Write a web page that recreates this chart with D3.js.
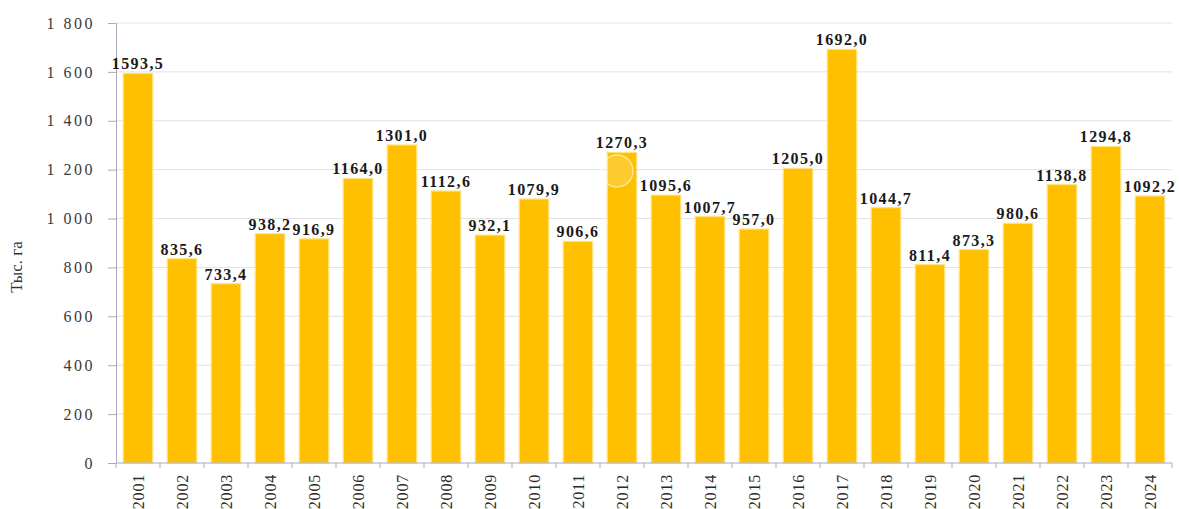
<!DOCTYPE html>
<html>
<head>
<meta charset="utf-8">
<script src="https://cdn.jsdelivr.net/npm/d3@7/dist/d3.min.js"></script>
<style>
  html, body { margin: 0; padding: 0; background: #ffffff; }
  svg { display: block; }
</style>
</head>
<body>
<svg id="chart" width="1179" height="509"></svg>
<script>
// Площадь, тыс. га, по годам
const years = ["2001","2002","2003","2004","2005","2006","2007","2008","2009","2010","2011","2012",
               "2013","2014","2015","2016","2017","2018","2019","2020","2021","2022","2023","2024"];
const values = [1593.5, 835.6, 733.4, 938.2, 916.9, 1164.0, 1301.0, 1112.6, 932.1, 1079.9, 906.6, 1270.3,
                1095.6, 1007.7, 957.0, 1205.0, 1692.0, 1044.7, 811.4, 873.3, 980.6, 1138.8, 1294.8, 1092.2];
const yTicks = [0, 200, 400, 600, 800, 1000, 1200, 1400, 1600, 1800];
const yTitle = "Тыс. га";

(function () {
  const svg = d3.select("#chart");
  const plotLeft = 116, plotRight = 1172, plotTop = 23, plotBottom = 463;
  const serif = "'Liberation Serif', 'Times New Roman', serif";

  const x = d3.scaleBand().domain(years).range([plotLeft, plotRight]).paddingInner(0.33).paddingOuter(0.165);
  const y = d3.scaleLinear().domain([0, 1800]).range([plotBottom, plotTop]);

  // horizontal gridlines
  svg.append("g").selectAll("line").data(yTicks.filter(d => d > 0)).join("line")
    .attr("x1", plotLeft).attr("x2", plotRight)
    .attr("y1", d => y(d)).attr("y2", d => y(d))
    .attr("stroke", "#e2e2e2").attr("stroke-width", 1);

  // y axis
  const fmt = v => d3.format(",")(v).replace(/,/g, " ");
  const yAxis = svg.append("g").attr("transform", `translate(${plotLeft},0)`)
    .call(d3.axisLeft(y).tickValues(yTicks).tickSize(8).tickSizeOuter(0).tickPadding(13).tickFormat(fmt));
  yAxis.select(".domain").attr("stroke", "#a9abbb");
  yAxis.selectAll(".tick line").attr("stroke", "#a9abbb");
  yAxis.selectAll("text").attr("font-family", serif).attr("font-size", 16)
    .attr("letter-spacing", "2.5px").attr("fill", "#3a3a3a");

  // bars
  svg.append("g").selectAll("rect").data(values).join("rect")
    .attr("x", (d, i) => x(years[i]))
    .attr("y", d => y(d))
    .attr("width", x.bandwidth())
    .attr("height", d => plotBottom - y(d))
    .attr("fill", "#FEC000")
    .attr("stroke", "#FFE27C").attr("stroke-width", 1.2);

  // x axis with ticks between categories
  const xg = svg.append("g").attr("transform", `translate(0,${plotBottom})`);
  xg.append("line").attr("x1", plotLeft).attr("x2", plotRight).attr("y1", 0).attr("y2", 0)
    .attr("stroke", "#a9abbb");
  const step = x.step();
  xg.selectAll("line.t").data(d3.range(years.length + 1)).join("line").attr("class", "t")
    .attr("x1", i => plotLeft + i * step).attr("x2", i => plotLeft + i * step)
    .attr("y1", 0).attr("y2", 5).attr("stroke", "#a9abbb");
  xg.selectAll("text").data(years).join("text")
    .attr("transform", d => `translate(${x(d) + x.bandwidth() / 2 + 6},11) rotate(-90)`)
    .attr("text-anchor", "end")
    .attr("font-family", serif).attr("font-size", 16).attr("letter-spacing", "0.8px")
    .attr("fill", "#2a2a2a")
    .text(d => d);

  // value labels
  svg.append("g").selectAll("text").data(values).join("text")
    .attr("x", (d, i) => x(years[i]) + x.bandwidth() / 2)
    .attr("y", d => y(d) - 4)
    .attr("text-anchor", "middle")
    .attr("font-family", serif).attr("font-size", 16).attr("font-weight", "bold")
    .attr("letter-spacing", "1.4px").attr("fill", "#1a1a1a")
    .text(d => d.toFixed(1).replace(".", ","));

  // faint highlight ring over 2012
  svg.append("circle")
    .attr("cx", x("2012") + x.bandwidth() / 2 - 5).attr("cy", y(1195))
    .attr("r", 16)
    .attr("fill", "rgba(255,255,255,0.18)")
    .attr("stroke", "rgba(255,255,255,0.55)").attr("stroke-width", 1.5);

  // y axis title
  svg.append("text")
    .attr("transform", "translate(22,267) rotate(-90)")
    .attr("text-anchor", "middle")
    .attr("font-family", serif).attr("font-size", 17).attr("fill", "#333")
    .text(yTitle);
})();
</script>
</body>
</html>
